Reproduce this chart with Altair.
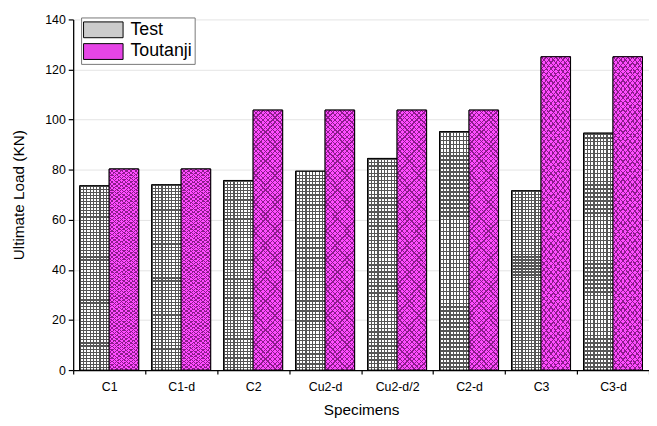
import altair as alt
import pandas as pd

specimens = ["C1", "C1-d", "C2", "Cu2-d", "Cu2-d/2", "C2-d", "C3", "C3-d"]
test_vals = [73.6, 74.0, 75.7, 79.4, 84.5, 95.2, 71.6, 94.6]
toutanji_vals = [80.3, 80.3, 103.8, 103.8, 103.8, 103.8, 125.1, 125.1]
series = ["Test", "Toutanji"]
y_ticks = [0, 20, 40, 60, 80, 100, 120, 140]

rows = []
for s, t, u in zip(specimens, test_vals, toutanji_vals):
    rows.append({"Specimen": s, "Series": "Test", "Load": t})
    rows.append({"Specimen": s, "Series": "Toutanji", "Load": u})
df = pd.DataFrame(rows)

font = "Liberation Sans"


def stripes(n, frac, line, bg, x1, y1, x2, y2):
    stops = []
    for k in range(n):
        a = k / n
        b = a + frac / n
        c = (k + 1) / n
        stops += [
            {"offset": a, "color": line},
            {"offset": b, "color": line},
            {"offset": b, "color": bg},
            {"offset": c, "color": bg},
        ]
    return {"gradient": "linear", "stops": stops,
            "x1": x1, "y1": y1, "x2": x2, "y2": y2}


clear = "rgba(255,255,255,0)"

x_enc = alt.X("Specimen:N", sort=specimens,
              scale=alt.Scale(paddingInner=0, paddingOuter=0),
              axis=alt.Axis(title="Specimens", labelAngle=0, tickBand="extent",
                            labelFontSize=12.5, titleFontSize=15.5, titlePadding=10,
                            labelPadding=7, tickSize=4, grid=False))
xoff_enc = alt.XOffset("Series:N", sort=series,
                       scale=alt.Scale(domain=series, paddingInner=0, paddingOuter=0.22))
y_enc = alt.Y("Load:Q", scale=alt.Scale(domain=[0, 140], nice=False),
              axis=alt.Axis(title="Ultimate Load (KN)", values=y_ticks,
                            labelFontSize=12.5, titleFontSize=15.5, titlePadding=18,
                            tickSize=5, labelPadding=3,
                            grid=True, gridColor="#e4e4e4"))

base = alt.Chart(df).mark_bar(stroke="black", strokeWidth=1).encode(
    x=x_enc, xOffset=xoff_enc, y=y_enc,
    fill=alt.Fill("Series:N", sort=series,
                  scale=alt.Scale(domain=series, range=["#cccccc", "#e645e6"]),
                  legend=alt.Legend(title=None, orient="none", legendX=8, legendY=-2,
                                    symbolType="M-2,-0.8H2V0.8H-2Z", symbolSize=400,
                                    symbolOffset=10,
                                    symbolStrokeColor="black", symbolStrokeWidth=1,
                                    labelFontSize=18, labelOffset=17, rowPadding=1,
                                    padding=2, strokeColor="#777777",
                                    fillColor="white")),
)

is_test = alt.datum.Series == "Test"
is_tout = alt.datum.Series == "Toutanji"

vlines = alt.Chart(df).transform_filter(is_test).mark_bar(
    fill=stripes(9, 0.36, "#555555", "#ffffff", 0, 0, 1, 0)
).encode(x=x_enc, xOffset=xoff_enc, y=y_enc)

hlines = alt.Chart(df).transform_filter(is_test).mark_bar(
    fill=stripes(60, 0.36, "#555555", clear, 0, 0, 0, 1),
    stroke="black", strokeWidth=1,
).encode(x=x_enc, xOffset=xoff_enc, y=y_enc)

tbase = alt.Chart(df).transform_filter(is_tout).mark_bar(
    fill="#ff4dff"
).encode(x=x_enc, xOffset=xoff_enc, y=y_enc)

diag1 = alt.Chart(df).transform_filter(is_tout).mark_bar(
    fill=stripes(60, 0.26, "#8c1c8c", clear, 0, 0, 0.1265, 1.1)
).encode(x=x_enc, xOffset=xoff_enc, y=y_enc)

diag2 = alt.Chart(df).transform_filter(is_tout).mark_bar(
    fill=stripes(60, 0.26, "#8c1c8c", clear, 1, 0, 0.8735, 1.1),
    stroke="black", strokeWidth=1,
).encode(x=x_enc, xOffset=xoff_enc, y=y_enc)

chart = alt.layer(base, vlines, hlines, tbase, diag1, diag2).properties(
    width=583, height=355,
    autosize=alt.AutoSizeParams(type="none"),
    padding={"left": 66, "top": 9, "right": 0, "bottom": 50},
).configure_view(stroke=None).configure_axis(
    labelFont=font, titleFont=font, labelColor="black", titleColor="black",
    domainColor="black", tickColor="black", domainWidth=1.3, tickWidth=1.2,
    titleFontWeight="normal",
).configure_legend(labelFont=font, labelColor="black")

chart.save("out.html", embed_options={"renderer": "svg", "actions": False})
